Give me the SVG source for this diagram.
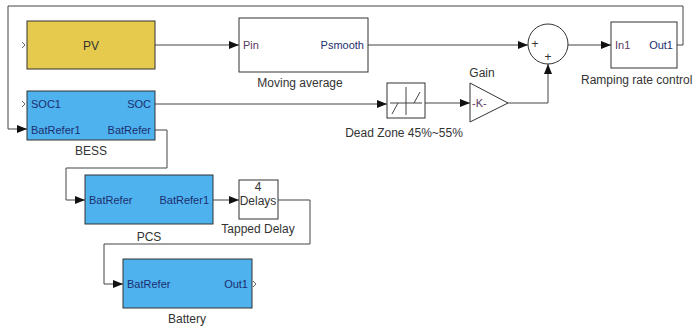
<svg xmlns="http://www.w3.org/2000/svg" width="697" height="328" viewBox="0 0 697 328">
<defs>
<style>
.blk{stroke:#333;stroke-width:1}
.yel{fill:#E6CA4E}
.blu{fill:#4EB2EF}
.wht{fill:#fff}
.ln{fill:none;stroke:#444;stroke-width:1}
.port{font-family:"Liberation Sans",Arial,sans-serif;font-size:11px;fill:#1C2F6E}
.pw{font-family:"Liberation Sans",Arial,sans-serif;font-size:11px;fill:#5A3A5E}
.lbl{font-family:"Liberation Sans",Arial,sans-serif;font-size:12px;fill:#333}
.open{fill:none;stroke:#666;stroke-width:1}
</style>
<marker id="ar" markerWidth="10" markerHeight="8" refX="10" refY="4" orient="auto" markerUnits="userSpaceOnUse">
<path d="M0,0 L10,4 L0,8 Z" fill="#111"/>
</marker>
</defs>
<rect width="697" height="328" fill="#fff"/>
<g id="connectors">
<path class="ln" d="M155,45 H239" marker-end="url(#ar)"/>
<path class="ln" d="M368,45 H528" marker-end="url(#ar)"/>
<path class="ln" d="M568,45 H611" marker-end="url(#ar)"/>
<path class="ln" d="M677,45 H683 V6 H8 V129 H27" marker-end="url(#ar)"/>
<path class="ln" d="M155,104 H387" marker-end="url(#ar)"/>
<path class="ln" d="M425,103 H470" marker-end="url(#ar)"/>
<path class="ln" d="M508,103 H548 V64" marker-end="url(#ar)"/>
<path class="ln" d="M155,130 H167 V168 H66 V200 H85" marker-end="url(#ar)"/>
<path class="ln" d="M213,200 H239" marker-end="url(#ar)"/>
<path class="ln" d="M278,200 H310 V244 H104 V284 H123" marker-end="url(#ar)"/>
</g>
<g id="pv">
<rect class="blk yel" x="27" y="21" width="128" height="48"/>
<path class="open" d="M22,42 L25,45 L22,48"/>
<text class="lbl" x="91" y="50" text-anchor="middle" font-size="13">PV</text>
</g>
<g id="bess">
<rect class="blk blu" x="27" y="91" width="128" height="49"/>
<path class="open" d="M22,101 L25,104 L22,107"/>
<text class="port" x="31" y="108">SOC1</text>
<text class="port" x="151" y="108" text-anchor="end">SOC</text>
<text class="port" x="31" y="134">BatRefer1</text>
<text class="port" x="151" y="134" text-anchor="end">BatRefer</text>
<text class="lbl" x="91" y="155" text-anchor="middle">BESS</text>
</g>
<g id="pcs">
<rect class="blk blu" x="85" y="175" width="128" height="49"/>
<text class="port" x="89" y="204">BatRefer</text>
<text class="port" x="209" y="204" text-anchor="end">BatRefer1</text>
<text class="lbl" x="149" y="241" text-anchor="middle">PCS</text>
</g>
<g id="tapped-delay">
<rect class="blk wht" x="239" y="180" width="39" height="39"/>
<text class="lbl" x="258" y="191" text-anchor="middle" font-size="11">4</text>
<text class="lbl" x="258" y="205" text-anchor="middle" font-size="11">Delays</text>
<text class="lbl" x="258" y="233" text-anchor="middle" fill="#4a3a2a">Tapped Delay</text>
</g>
<g id="battery">
<rect class="blk blu" x="123" y="259" width="129" height="49"/>
<text class="port" x="127" y="288">BatRefer</text>
<text class="port" x="248" y="288" text-anchor="end">Out1</text>
<path class="open" d="M253,281 L256,284 L253,287"/>
<text class="lbl" x="187" y="323" text-anchor="middle">Battery</text>
</g>
<g id="moving-average">
<rect class="blk wht" x="239" y="18" width="129" height="54"/>
<text class="pw" x="243" y="49">Pin</text>
<text class="port" x="364" y="49" text-anchor="end" fill="#333">Psmooth</text>
<text class="lbl" x="300" y="87" text-anchor="middle">Moving average</text>
</g>
<g id="sum">
<circle class="blk wht" cx="548" cy="44" r="20"/>
<text class="lbl" x="535" y="48" font-size="10" text-anchor="middle">+</text>
<text class="lbl" x="548" y="61" font-size="10" text-anchor="middle">+</text>
</g>
<g id="ramping-rate-control">
<rect class="blk wht" x="611" y="22" width="66" height="46"/>
<text class="pw" x="615" y="49">In1</text>
<text class="port" x="673" y="49" text-anchor="end" fill="#333">Out1</text>
<text class="lbl" x="581" y="84" fill="#4a2a4a">Ramping rate control</text>
</g>
<g id="dead-zone">
<rect class="blk wht" x="387" y="83" width="38" height="35"/>
<path class="ln" d="M390,103 H422 M406,87 V115 M392,114 L398,103 M414,103 L420,92"/>
<text class="lbl" x="404" y="137" text-anchor="middle">Dead Zone 45%~55%</text>
</g>
<g id="gain">
<path class="blk wht" d="M470,83 L508,103 L470,122 Z"/>
<text class="pw" x="472" y="107">-K-</text>
<text class="lbl" x="482" y="77" text-anchor="middle">Gain</text>
</g>
</svg>
